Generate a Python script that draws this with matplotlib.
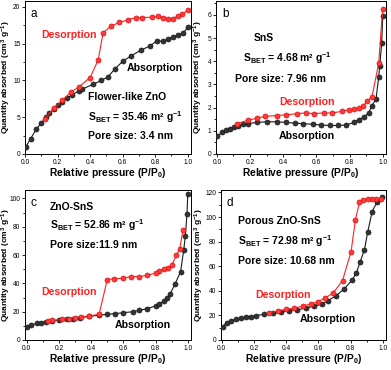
import matplotlib
matplotlib.use("Agg")
import matplotlib.pyplot as plt
from matplotlib.ticker import MultipleLocator

plt.rcParams["font.family"] = ["Liberation Sans", "DejaVu Sans"]
plt.rcParams["font.weight"] = "bold"
plt.rcParams["axes.labelweight"] = "bold"
plt.rcParams["mathtext.fontset"] = "custom"
plt.rcParams["mathtext.rm"] = "Liberation Sans:bold"
plt.rcParams["mathtext.it"] = "Liberation Sans:bold"
plt.rcParams["mathtext.bf"] = "Liberation Sans:bold"
plt.rcParams["mathtext.default"] = "rm"

# (a) flower-like ZnO
a_ads_x = [0.006, 0.035, 0.07, 0.1, 0.13, 0.15, 0.18, 0.2, 0.23, 0.255, 0.29, 0.33, 0.35,
           0.42, 0.47, 0.51, 0.55, 0.6, 0.65, 0.71, 0.77, 0.81, 0.85, 0.88, 0.91, 0.94, 0.97, 1.0]
a_ads_y = [1.0, 2.1, 3.4, 4.2, 5.0, 5.6, 6.1, 6.65, 7.1, 7.55, 8.0, 8.6, 8.8,
           9.5, 10.0, 10.5, 11.5, 12.6, 13.3, 14.1, 14.7, 15.4, 15.3, 15.6, 15.9, 16.2, 16.4, 17.2]
a_des_x = [1.0, 0.965, 0.94, 0.91, 0.88, 0.85, 0.82, 0.78, 0.72, 0.68, 0.63, 0.58, 0.53,
           0.48, 0.45, 0.4, 0.33, 0.28, 0.23, 0.18, 0.12]
a_des_y = [19.55, 19.0, 18.8, 18.4, 18.4, 18.55, 18.7, 18.6, 18.55, 18.55, 18.2, 17.9, 17.4,
           16.5, 12.8, 10.4, 9.1, 8.4, 7.3, 6.3, 4.75]

# (b) SnS
b_ads_x = [0.004, 0.03, 0.056, 0.08, 0.105, 0.13, 0.157, 0.185, 0.24, 0.3, 0.36, 0.42, 0.47,
           0.52, 0.58, 0.63, 0.68, 0.73, 0.78, 0.825, 0.855, 0.885, 0.915, 0.935, 0.96,
           0.976, 0.982, 0.994, 1.0]
b_ads_y = [0.76, 0.93, 1.02, 1.09, 1.15, 1.22, 1.28, 1.31, 1.36, 1.39, 1.39, 1.36, 1.33,
           1.31, 1.28, 1.25, 1.23, 1.23, 1.25, 1.36, 1.48, 1.59, 1.77, 2.08, 2.38,
           3.32, 3.78, 4.78, 5.97]
b_des_x = [1.0, 0.976, 0.936, 0.905, 0.88, 0.855, 0.825, 0.795, 0.755, 0.695, 0.645, 0.585,
           0.535, 0.483, 0.42, 0.36, 0.29, 0.24, 0.185, 0.12]
b_des_y = [6.26, 3.92, 2.48, 2.27, 2.05, 1.98, 1.94, 1.91, 1.84, 1.77, 1.77, 1.74,
           1.77, 1.74, 1.69, 1.66, 1.62, 1.54, 1.45, 1.31]

# (c) ZnO-SnS
c_ads_x = [0.004, 0.03, 0.066, 0.09, 0.12, 0.16, 0.2, 0.25, 0.29, 0.33, 0.39, 0.45, 0.5,
           0.55, 0.6, 0.66, 0.7, 0.75, 0.8, 0.82, 0.85, 0.87, 0.89, 0.92, 0.955, 0.975,
           0.985, 0.995, 1.0]
c_ads_y = [9.0, 10.6, 11.8, 12.3, 13.0, 13.4, 14.2, 14.6, 15.1, 15.8, 16.7, 17.5, 18.2,
           18.6, 19.3, 20.0, 21.0, 22.2, 24.1, 25.2, 27.4, 29.7, 32.3, 39.4, 48.1, 63.7,
           73.6, 88.9, 103.0]
c_des_x = [0.97, 0.95, 0.93, 0.9, 0.88, 0.85, 0.82, 0.8, 0.75, 0.7, 0.65, 0.6, 0.54, 0.5,
           0.45, 0.39, 0.34, 0.3, 0.26, 0.22, 0.16, 0.13]
c_des_y = [77.6, 64.2, 59.9, 52.8, 51.2, 50.0, 48.8, 47.2, 45.8, 44.8, 44.8, 43.6, 43.4, 42.5,
           18.2, 17.0, 16.3, 15.8, 15.1, 14.6, 13.9, 13.4]

# (d) porous ZnO-SnS
d_ads_x = [0.006, 0.03, 0.058, 0.09, 0.12, 0.15, 0.18, 0.21, 0.265, 0.32, 0.37, 0.42, 0.47,
           0.52, 0.575, 0.62, 0.66, 0.71, 0.76, 0.81, 0.835, 0.86, 0.886, 0.907, 0.934,
           0.963, 0.996]
d_ads_y = [10.9, 14.1, 15.7, 16.8, 17.9, 18.5, 19.0, 19.8, 20.9, 22.0, 22.8, 23.9, 24.7,
           25.8, 27.7, 29.0, 32.0, 36.1, 41.5, 48.9, 54.3, 63.8, 73.3, 88.2, 104.5,
           111.9, 116.2]
d_des_x = [0.99, 0.96, 0.934, 0.907, 0.88, 0.855, 0.83, 0.803, 0.75, 0.69, 0.638, 0.596,
           0.555, 0.503, 0.45, 0.4, 0.35, 0.296]
d_des_y = [114.6, 114.6, 114.6, 114.6, 114.0, 111.9, 97.7, 71.9, 48.3, 38.0, 33.9, 31.2,
           29.3, 27.7, 25.8, 25.0, 23.6, 22.3]

RED = "#ff2020"
BLACK = "#1a1a1a"

fig = plt.figure(figsize=(3.91, 3.70), dpi=100)
W, H = 391.0, 370.0


def make_axes(x0, x1, y0, y1):
    return fig.add_axes([x0 / W, 1 - y1 / H, (x1 - x0) / W, (y1 - y0) / H])


panels = [
    dict(box=(25, 191, 1, 154), ads=(a_ads_x, a_ads_y), des=(a_des_x, a_des_y),
         ylim=(0, 20.8), ymaj=5, ymin=2.5, xlim=(0, 1.02), letter="a", ylab_x=-0.072,
         texts=[("Flower-like ZnO", 0.38, 0.375), ("S$_{BET}$ = 35.46 m² g$^{-1}$", 0.38, 0.24),
                ("Pore size: 3.4 nm", 0.38, 0.12)],
         des_lab=(0.10, 0.78), ads_lab=(0.61, 0.56)),
    dict(box=(216, 386, 1, 154), ads=(b_ads_x, b_ads_y), des=(b_des_x, b_des_y),
         ylim=(0, 6.6), ymaj=1, ymin=0.5, xlim=(-0.005, 1.02), letter="b", ylab_x=-0.062,
         texts=[("SnS", 0.22, 0.755), ("S$_{BET}$ = 4.68 m² g$^{-1}$", 0.16, 0.63),
                ("Pore size: 7.96 nm", 0.11, 0.49)],
         des_lab=(0.37, 0.34), ads_lab=(0.37, 0.12)),
    dict(box=(25, 191, 190, 340), ads=(c_ads_x, c_ads_y), des=(c_des_x, c_des_y),
         ylim=(0, 106), ymaj=20, ymin=10, xlim=(-0.01, 1.02), letter="c", ylab_x=-0.072,
         texts=[("ZnO-SnS", 0.15, 0.89), ("S$_{BET}$ = 52.86 m² g$^{-1}$", 0.15, 0.765),
                ("Pore size:11.9 nm", 0.15, 0.63)],
         des_lab=(0.10, 0.32), ads_lab=(0.54, 0.10)),
    dict(box=(221, 386, 190, 340), ads=(d_ads_x, d_ads_y), des=(d_des_x, d_des_y),
         ylim=(0, 122), ymaj=20, ymin=10, xlim=(-0.005, 1.02), letter="d", ylab_x=-0.092,
         texts=[("Porous ZnO-SnS", 0.105, 0.79), ("S$_{BET}$ = 72.98 m² g$^{-1}$", 0.105, 0.66),
                ("Pore size: 10.68 nm", 0.105, 0.53)],
         des_lab=(0.21, 0.30), ads_lab=(0.48, 0.14)),
]

for p in panels:
    ax = make_axes(*p["box"])
    ax.plot(*p["ads"], "-o", color=BLACK, lw=0.8, ms=3.6, mfc="#333333", mec=BLACK, mew=0.5,
            zorder=3)
    ax.plot(*p["des"], "-o", color=RED, lw=0.8, ms=3.6, mfc="#ff3a3a", mec="#d81010", mew=0.5,
            zorder=4)
    ax.set_xlim(*p["xlim"])
    ax.set_ylim(*p["ylim"])
    ax.xaxis.set_major_locator(MultipleLocator(0.2))
    ax.xaxis.set_minor_locator(MultipleLocator(0.1))
    ax.yaxis.set_major_locator(MultipleLocator(p["ymaj"]))
    ax.yaxis.set_minor_locator(MultipleLocator(p["ymin"]))
    ax.tick_params(which="both", direction="out", labelsize=4.8, width=0.6, pad=0.8)
    ax.tick_params(which="major", length=2.5)
    ax.tick_params(which="minor", length=1.5)
    for s in ax.spines.values():
        s.set_linewidth(0.7)
    for lab in ax.get_xticklabels() + ax.get_yticklabels():
        lab.set_fontweight("normal")
    ax.set_xlabel("Relative pressure (P/P$_0$)", fontsize=7.4, fontweight="bold", labelpad=0.5)
    ax.set_ylabel("Quantity absorbed (cm$^3$ g$^{-1}$)", fontsize=6.0, fontweight="bold")
    ax.yaxis.set_label_coords(p["ylab_x"], 0.5)
    ax.text(0.035, 0.955, p["letter"], transform=ax.transAxes, fontsize=8.5,
            fontweight="normal", va="top", ha="left")
    for t, x, y in p["texts"]:
        ax.text(x, y, t, transform=ax.transAxes, fontsize=7.5, fontweight="bold",
                va="center", ha="left")
    ax.text(*p["des_lab"], "Desorption", transform=ax.transAxes, fontsize=7.6,
            fontweight="bold", color=RED, va="center", ha="left")
    ax.text(*p["ads_lab"], "Absorption", transform=ax.transAxes, fontsize=7.6,
            fontweight="bold", color="black", va="center", ha="left")

fig.savefig("out.png", dpi=100)
plt.close(fig)
